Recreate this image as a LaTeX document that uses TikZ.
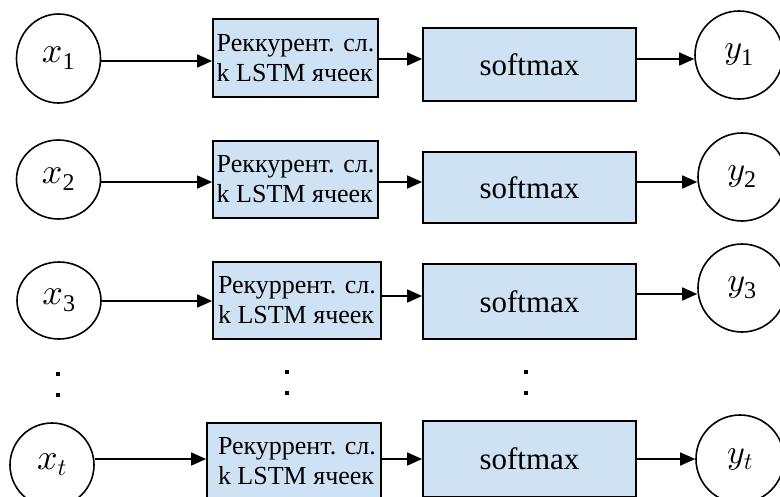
\documentclass[tikz,border=0pt]{standalone}
\usepackage{fontspec}
\setmainfont{Liberation Serif}
% scalable math italic for the large variable names
\DeclareFontShape{OML}{cmm}{m}{it}{<->cmmi10}{}
% variable with a large subscript
\newcommand\subv[2]{$#1_{\hbox{\fontsize{24}{24}\selectfont #2}}$}
\usetikzlibrary{arrows.meta,shapes.geometric}
\definecolor{boxfill}{HTML}{CFE2F3}
\begin{document}
\begin{tikzpicture}[x=1pt,y=-1pt,
  lstmbox/.style={draw=black, line width=1.8pt, fill=boxfill, inner sep=0pt,
    align=left, font=\fontsize{26}{30}\selectfont},
  smbox/.style={draw=black, line width=1.8pt, fill=boxfill, inner sep=0pt,
    minimum width=213pt, font=\fontsize{31}{36}\selectfont},
  inode/.style={draw=black, line width=1.6pt, ellipse, inner sep=0pt,
    minimum width=84pt, font=\fontsize{36}{40}\selectfont},
  onode/.style={draw=black, line width=1.6pt, circle, inner sep=0pt,
    minimum size=88pt, font=\fontsize{34}{40}\selectfont},
  flow/.style={line width=1.7pt, -{Triangle[length=15pt,width=13pt]}},
  vdot/.style={fill=black, inner sep=0pt, minimum size=4.5pt}
]
\useasboundingbox (0,0) rectangle (780,496);
\clip (0,0) rectangle (780,496);

% inputs
\node[inode, minimum height=89pt] (x1) at (58.5,58.5) {\subv{x}{1}};
\node[inode, minimum height=79pt] (x2) at (58.5,179.5) {\subv{x}{2}};
\node[inode, minimum height=77pt] (x3) at (59,300.5) {\subv{x}{3}};
\node[inode, minimum height=84pt] (xt) at (52,465) {\subv{x}{$t$}};

% recurrent layers
\node[lstmbox, minimum width=165pt, minimum height=78pt] (r1) at (295.5,58)
  {Реккурент. сл.\\k LSTM ячеек};
\node[lstmbox, minimum width=165pt, minimum height=77pt] (r2) at (295.5,179.5)
  {Реккурент. сл.\\k LSTM ячеек};
\node[lstmbox, minimum width=168pt, minimum height=77pt] (r3) at (297,300.5)
  {Рекуррент. сл.\\k LSTM ячеек};
\node[lstmbox, minimum width=174pt, minimum height=77pt] (rt) at (294,461.5)
  {\hspace*{6pt}Рекуррент. сл.\\\hspace*{6pt}k LSTM ячеек};

% softmax layers
\node[smbox, minimum height=73pt] (s1) at (529.5,64.5) {softmax};
\node[smbox, minimum height=71pt] (s2) at (529.5,187.5) {softmax};
\node[smbox, minimum height=75pt] (s3) at (529.5,301.5) {softmax};
\node[smbox, minimum height=76pt] (st) at (529.5,459) {softmax};

% outputs
\node[onode] (y1) at (739,55) {\subv{y}{1}};
\node[onode] (y2) at (742,177) {\subv{y}{2}};
\node[onode] (y3) at (742,288) {\subv{y}{3}};
\node[onode] (yt) at (740,459) {\subv{y}{$t$}};

% connector levels
\coordinate (h1) at (0,61);
\coordinate (h1b) at (0,59);
\coordinate (h2) at (0,182);
\coordinate (h3) at (0,301);
\coordinate (h3b) at (0,296);
\coordinate (h3c) at (0,294);
\coordinate (ht) at (0,459);

\draw[flow] (x1.east |- h1) -- (r1.west |- h1);
\draw[flow] (r1.east |- h1b) -- (s1.west |- h1b);
\draw[flow] (s1.east |- h1b) -- (y1.west |- h1b);

\draw[flow] (x2.east |- h2) -- (r2.west |- h2);
\draw[flow] (r2.east |- h2) -- (s2.west |- h2);
\draw[flow] (s2.east |- h2) -- (y2.west |- h2);

\draw[flow] (x3.east |- h3) -- (r3.west |- h3);
\draw[flow] (r3.east |- h3b) -- (s3.west |- h3b);
\draw[flow] (s3.east |- h3c) -- (y3.west |- h3c);

\draw[flow] (xt.east |- ht) -- (rt.west |- ht);
\draw[flow] (rt.east |- ht) -- (st.west |- ht);
\draw[flow] (st.east |- ht) -- (yt.west |- ht);

% ellipsis dots
\node[vdot] (da1) at (58,374) {};
\node[vdot] (da2) at (58,395) {};
\node[vdot] (db1) at (287,372) {};
\node[vdot] (db2) at (287,393) {};
\node[vdot] (dc1) at (526,372) {};
\node[vdot] (dc2) at (526,393) {};
\end{tikzpicture}
\end{document}
